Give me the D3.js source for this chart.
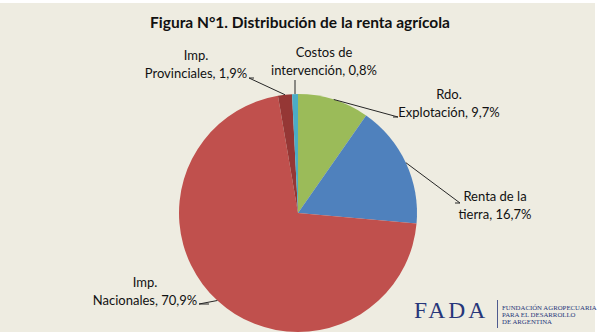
<!DOCTYPE html>
<html>
<head>
<meta charset="utf-8">
<script src="https://cdn.jsdelivr.net/npm/d3@7"></script>
<style>
  html, body { margin: 0; padding: 0; background: #ffffff; }
  svg { display: block; }
  text { fill: #111111; }
</style>
</head>
<body>
<svg id="chart" width="600" height="336"></svg>
<script>
// Distribución de la renta agrícola (porcentajes)
const categories = ["Rdo. Explotación", "Renta de la tierra", "Imp. Nacionales", "Imp. Provinciales", "Costos de intervención"];
const labelFirstLine = ["Rdo.", "Renta de la", "Imp.", "Imp.", "Costos de"];
const labelSecondLine = ["Explotación", "tierra", "Nacionales", "Provinciales", "intervención"];
const values = [9.7, 16.7, 70.9, 1.9, 0.8];
const sliceColors = ["#9bbb59", "#4f81bd", "#c0504d", "#953735", "#4bacc6"];

const titleText = "Figura N°1. Distribución de la renta agrícola";

// Label placement: centre of the text block, baseline of the second line,
// and the elbow where the leader line meets the text.
const labelLayout = [
  { cx: 449, y2: 117, elbow: [[393, 117], [398, 117]] },
  { cx: 495, y2: 219, elbow: [[455, 203], [460, 203]] },
  { cx: 145, y2: 305, elbow: [[209, 304], [199, 304]] },
  { cx: 196, y2: 78,  elbow: [[254, 78], [249, 78]] },
  { cx: 324, y2: 75,  elbow: [[295, 80]] }
];

const sans = "Lato, 'Noto Sans', sans-serif";
const serif = "'Liberation Serif', 'DejaVu Serif', serif";

const svg = d3.select("#chart");

// Chart area background
svg.append("rect")
  .attr("x", 0).attr("y", 3)
  .attr("width", 595).attr("height", 329)
  .attr("fill", "#eeece1");

// Title
svg.append("text")
  .attr("x", 300).attr("y", 28)
  .attr("text-anchor", "middle")
  .style("font-family", sans)
  .attr("font-weight", "bold")
  .attr("font-size", 15.5)
  .text(titleText);

const cx = 298, cy = 213, r = 119;
const g = svg.append("g").attr("transform", `translate(${cx},${cy})`);

const pie = d3.pie().sort(null).value(d => d)(values);
const arc = d3.arc().innerRadius(0).outerRadius(r);
const edge = d3.arc().innerRadius(r).outerRadius(r);

g.selectAll("path.slice")
  .data(pie)
  .join("path")
  .attr("class", "slice")
  .attr("d", arc)
  .attr("fill", (d, i) => sliceColors[i]);

const fmt = v => d3.format(".1f")(v).replace(".", ",") + "%";

// Leader lines from the slice edge to the label
const line = d3.line();
pie.forEach((d, i) => {
  const [ex, ey] = edge.centroid(d);
  const pts = labelLayout[i].elbow.concat([[ex + cx, ey + cy]]);
  svg.append("path")
    .attr("d", line(pts))
    .attr("fill", "none")
    .attr("stroke", "#262626")
    .attr("stroke-width", 1);
});

// Data labels
pie.forEach((d, i) => {
  const L = labelLayout[i];
  const t = svg.append("text")
    .attr("text-anchor", "middle")
    .style("font-family", sans)
    .attr("font-size", 13);
  t.append("tspan").attr("x", L.cx).attr("y", L.y2 - 18).text(labelFirstLine[i]);
  t.append("tspan").attr("x", L.cx).attr("y", L.y2)
    .text(labelSecondLine[i] + ", " + fmt(values[i]));
});

// FADA mark
const navy = "#26367a";
svg.append("text")
  .attr("x", 414).attr("y", 318)
  .style("font-family", serif)
  .attr("font-size", 23.5)
  .attr("letter-spacing", 3)
  .style("fill", navy)
  .text("FADA");
svg.append("line")
  .attr("x1", 497.5).attr("x2", 497.5)
  .attr("y1", 300).attr("y2", 328)
  .attr("stroke", navy).attr("stroke-width", 0.8);
["FUNDACIÓN AGROPECUARIA", "PARA EL DESARROLLO", "DE ARGENTINA"].forEach((s, i) => {
  svg.append("text")
    .attr("x", 502).attr("y", 310 + i * 7.2)
    .style("font-family", serif)
    .attr("font-size", 6.8)
    .style("fill", navy)
    .text(s);
});
</script>
</body>
</html>
